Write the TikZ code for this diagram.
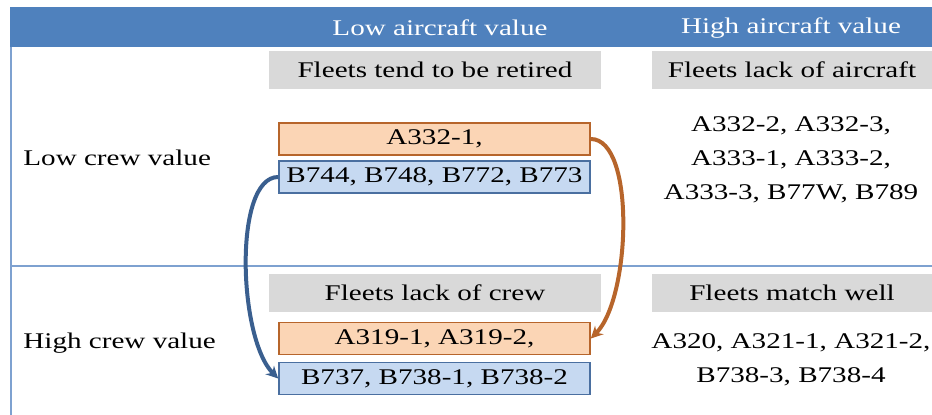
\documentclass[tikz,border=0pt]{standalone}
\usepackage{fontspec}
\setmainfont{Liberation Serif}[FakeStretch=1.3]
\usetikzlibrary{arrows.meta}
\definecolor{hdblue}{HTML}{4F81BD}
\definecolor{rule}{HTML}{7EA1D0}
\definecolor{tagrey}{HTML}{D9D9D9}
\definecolor{orfill}{HTML}{FBD5B5}
\definecolor{ordraw}{HTML}{B7652B}
\definecolor{blfill}{HTML}{C6D9F1}
\definecolor{bldraw}{HTML}{4A6FA0}
\definecolor{blarrow}{HTML}{3A5F8F}

\begin{document}
\begin{tikzpicture}[x=0.5pt,y=-0.5pt,font=\fontsize{11.2}{17}\selectfont,
    tag/.style={fill=tagrey,inner sep=0pt,minimum height=19pt},
    orbox/.style={draw=ordraw,fill=orfill,line width=0.8pt,inner sep=0pt,minimum width=155.5pt,minimum height=16pt},
    blbox/.style={draw=bldraw,fill=blfill,line width=0.8pt,inner sep=0pt,minimum width=155.5pt,minimum height=16pt},
    swap/.style={line width=2pt,-{Stealth[length=6pt,width=6pt]}}]
    \useasboundingbox (0,0) rectangle (932,415);
    \fill[hdblue] (10,7) rectangle (932,47);
    \draw[rule,line width=0.8pt] (11,47) -- (11,415);
    \draw[rule,line width=0.8pt] (11,266) -- (932,266);

    \node(lowac)[text=white] at (440,28) {Low aircraft value};
    \node(highac)[text=white] at (791,28) {High aircraft value};

    \node(lowcrew)[anchor=west,inner sep=0pt] at (23,158) {Low crew value};
    \node(highcrew)[anchor=west,inner sep=0pt] at (23,343) {High crew value};

    \node(retired)[tag,minimum width=166pt] at (435,70) {Fleets tend to be retired};
    \node(lackac)[tag,minimum width=140pt] at (792,70) {Fleets lack of aircraft};
    \node(lackcrew)[tag,minimum width=166pt] at (435,293) {Fleets lack of crew};
    \node(match)[tag,minimum width=140pt] at (792,293) {Fleets match well};

    \node(a332)[orbox] at (434.5,139) {A332-1,};
    \node(b744)[blbox] at (434.5,177) {B744, B748, B772, B773};
    \node(a319)[orbox] at (434.5,338.5) {A319-1, A319-2,};
    \node(b737)[blbox] at (434.5,378.5) {B737, B738-1, B738-2};

    \node(hiac)[align=center] at (791,160) {A332-2, A332-3,\\A333-1, A333-2,\\A333-3, B77W, B789};
    \node(well)[align=center] at (791,359.5) {A320, A321-1, A321-2,\\B738-3, B738-4};

    \draw[swap,ordraw] (a332.east) .. controls +(45,0) and +(40,-40) .. (a319.east);
    \draw[swap,blarrow] (b744.west) .. controls +(-45,0) and +(-40,-40) .. (b737.west);
\end{tikzpicture}
\end{document}
